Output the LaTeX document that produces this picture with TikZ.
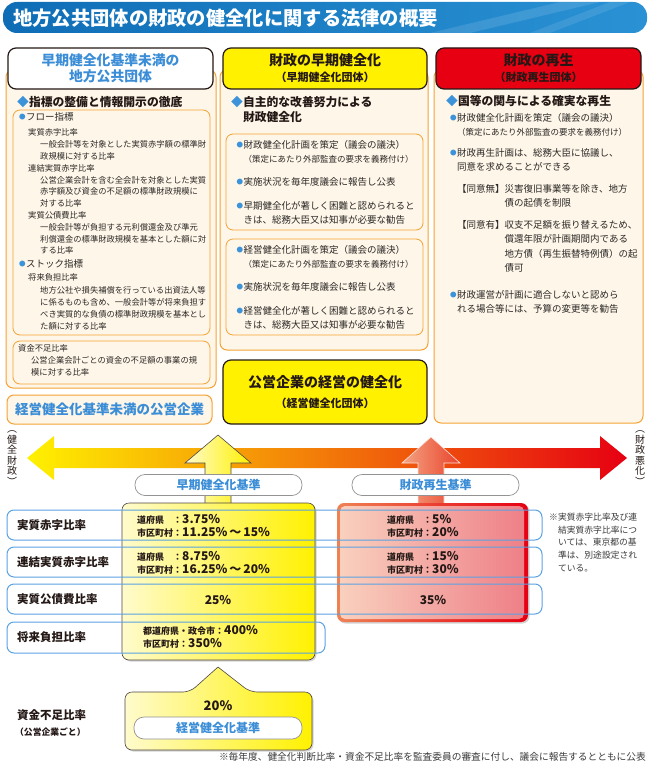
\documentclass[tikz,border=0pt]{standalone}
\usepackage{fontspec}
\setmainfont{Noto Sans CJK JP}
\usepackage{xcolor}
\usepackage{tikz}
\usetikzlibrary{shadows}
\definecolor{body}{HTML}{2B2827}
\definecolor{ink}{HTML}{231815}
\definecolor{dotblue}{HTML}{3D93DA}
\definecolor{txtblue}{HTML}{3A8DD6}
\definecolor{panelor}{HTML}{F4A233}
\definecolor{cream}{HTML}{FEF6E8}
\definecolor{ylw}{HTML}{FFF100}
\definecolor{ylwlt}{HTML}{FFFBCC}
\definecolor{orng}{HTML}{F39800}
\definecolor{rd}{HTML}{E60012}
\definecolor{rowblue}{HTML}{5AA2E2}
\definecolor{note}{HTML}{3A3A3A}
\definecolor{titleA}{HTML}{0F6DB6}
\definecolor{titleB}{HTML}{2A92D4}
\definecolor{redA}{HTML}{F4A383}
\definecolor{redB}{HTML}{E9442C}
\definecolor{frameA}{HTML}{EF8154}
\definecolor{fillA}{HTML}{F9D0BE}
\definecolor{fillB}{HTML}{EE8088}
\newcommand\fsz[2]{\fontsize{#1}{#2}\selectfont}
\newcommand\blt{\makebox[7pt][l]{\raisebox{0.7pt}{\textcolor{dotblue}{\fsz{6.5}{7}●}}}}
\newcommand\pfx[1]{\makebox[36pt][l]{#1}}
\newcommand\bignum[1]{{\fsz{12}{13}#1}}

\begin{document}
\begin{tikzpicture}[x=1pt, y=-1pt,
    every node/.style={inner sep=0pt, text=body},
    panel/.style={draw=panelor, fill=cream, line width=1pt, rounded corners=7pt},
    inbox/.style={draw=panelor, fill=cream, line width=0.8pt, rounded corners=7pt},
    hdr/.style={draw=ink, line width=1.2pt, rounded corners=8pt, minimum height=41pt,
      align=center, font=\bfseries\fsz{11}{16}, text=ink},
    txt/.style={anchor=north west, align=left},
    lead/.style={anchor=north west, align=left, font=\bfseries\fsz{11.8}{15}, text=ink},
    pill/.style={draw=gray!85, fill=white, line width=0.7pt, rounded corners=10pt,
      minimum width=167pt, minimum height=21pt, font=\bfseries\fsz{12}{13}, text=txtblue},
    row/.style={draw=rowblue, line width=1pt, rounded corners=7pt},
    rowlbl/.style={anchor=west, font=\bfseries\fsz{11.5}{13}, text=ink},
    val/.style={anchor=west, align=left, font=\bfseries\fsz{9}{13}, text=ink},
    colbox/.style={rounded corners=7pt, drop shadow={shadow xshift=1.5pt, shadow yshift=-1.5pt, opacity=0.35}},
    vlab/.style={align=center, font=\fsz{10}{10.5}, text=ink}
  ]
  \useasboundingbox (0,0) rectangle (650,762);

  \begin{scope}
    \clip[rounded corners=14pt] (3,2) rectangle (647,33);
    \shade[left color=titleA, right color=titleB] (3,2) rectangle (647,33);
    \fill[white, opacity=0.12] (430,33) -- (560,2) -- (600,2) -- (470,33) -- cycle;
    \fill[white, opacity=0.10] (530,33) -- (610,2) -- (630,2) -- (550,33) -- cycle;
  \end{scope}
  \node[anchor=west, font=\bfseries\fsz{19.3}{20}, text=white] (title) at (13,18) {地方公共団体の財政の健全化に関する法律の概要};

  \draw[panel] (6,70) rectangle (216,388);
  \draw[panel] (220,70) rectangle (428,350);
  \draw[panel] (434,70) rectangle (643,423);
  \draw[inbox] (13,110) rectangle (210,335);
  \draw[inbox] (13,341) rectangle (210,384);
  \draw[inbox] (226,134) rectangle (423,230);
  \draw[inbox] (226,239) rectangle (423,335);

  \node[hdr, fill=white, minimum width=205pt, text=txtblue, font=\bfseries\fsz{13.8}{16}] (lefthdr) at (110.5,68.5) {早期健全化基準未満の\\地方公共団体};
  \node[hdr, fill=ylw, minimum width=204pt] (midhdr) at (325,68.5) {{\fsz{14}{16}財政の早期健全化}\\{\fsz{11}{13}（早期健全化団体）}};
  \node[hdr, fill=rd, minimum width=205pt] (righthdr) at (538.5,68.5) {{\fsz{14}{16}財政の再生}\\{\fsz{11}{13}（財政再生団体）}};

  \node[lead] (leftlead) at (17,96) {\textcolor{dotblue}{◆}指標の整備と情報開示の徹底};
  \node[anchor=west, font=\fsz{9.5}{12}] (flow) at (19,117) {\blt フロー指標};
  \node[txt, font=\fsz{8.3}{11.8}] (flowtxt) at (28,128.8) {実質赤字比率\\%
\hspace*{12pt}一般会計等を対象とした実質赤字額の標準財\\%
\hspace*{12pt}政規模に対する比率\\%
連結実質赤字比率\\%
\hspace*{12pt}公営企業会計を含む全会計を対象とした実質\\%
\hspace*{12pt}赤字額及び資金の不足額の標準財政規模に\\%
\hspace*{12pt}対する比率\\%
実質公債費比率\\%
\hspace*{12pt}一般会計等が負担する元利償還金及び準元\\%
\hspace*{12pt}利償還金の標準財政規模を基本とした額に対\\%
\hspace*{12pt}する比率};
  \node[anchor=west, font=\fsz{9.5}{12}] (stock) at (19,264) {\blt ストック指標};
  \node[txt, font=\fsz{8.3}{12.2}] (stocktxt) at (28,273.8) {将来負担比率\\%
\hspace*{12pt}地方公社や損失補償を行っている出資法人等\\%
\hspace*{12pt}に係るものも含め、一般会計等が将来負担す\\%
\hspace*{12pt}べき実質的な負債の標準財政規模を基本とし\\%
\hspace*{12pt}た額に対する比率};
  \node[txt, font=\fsz{8.3}{12}] (fundtxt) at (18,344.8) {資金不足比率\\%
\hspace*{13pt}公営企業会計ごとの資金の不足額の事業の規\\%
\hspace*{13pt}模に対する比率};
  \node[draw=panelor, fill=cream, line width=1pt, rounded corners=7pt, minimum width=205pt,
    minimum height=29pt, font=\bfseries\fsz{13.5}{14}, text=txtblue] (subpar) at (109.5,409.5) {経営健全化基準未満の公営企業};

  \node[lead] (midlead) at (231,96) {\textcolor{dotblue}{◆}自主的な改善努力による\\\hspace*{11.8pt}財政健全化};
  \node[txt, font=\fsz{9.5}{14}] (m1) at (236.5,140.3) {\blt 財政健全化計画を策定（議会の議決）};
  \node[txt, font=\fsz{8.5}{14}] (m1s) at (243.5,154.8) {（策定にあたり外部監査の要求を義務付け）};
  \node[txt, font=\fsz{9.5}{14}] (m2) at (236.5,177.3) {\blt 実施状況を毎年度議会に報告し公表};
  \node[txt, font=\fsz{9.5}{14}] (m3) at (236.5,201.3) {\blt 早期健全化が著しく困難と認められると\\\hspace*{7pt}きは、総務大臣又は知事が必要な勧告};
  \node[txt, font=\fsz{9.5}{14}] (m4) at (236.5,245.3) {\blt 経営健全化計画を策定（議会の議決）};
  \node[txt, font=\fsz{8.5}{14}] (m4s) at (243.5,259.8) {（策定にあたり外部監査の要求を義務付け）};
  \node[txt, font=\fsz{9.5}{14}] (m5) at (236.5,282.3) {\blt 実施状況を毎年度議会に報告し公表};
  \node[txt, font=\fsz{9.5}{14}] (m6) at (236.5,306.3) {\blt 経営健全化が著しく困難と認められると\\\hspace*{7pt}きは、総務大臣又は知事が必要な勧告};
  \node[hdr, fill=ylw, minimum width=204pt, minimum height=64pt, font=\bfseries\fsz{11}{20}] (pubhdr) at (325,392) {{\fsz{14}{16}公営企業の経営の健全化}\\{\fsz{11}{13}（経営健全化団体）}};

  \node[lead] (rightlead) at (446,95.1) {\textcolor{dotblue}{◆}国等の関与による確実な再生};
  \node[txt, font=\fsz{9.5}{14}] (r1) at (450,113.3) {\blt 財政健全化計画を策定（議会の議決）};
  \node[txt, font=\fsz{8.5}{14}] (r1s) at (457,127.8) {（策定にあたり外部監査の要求を義務付け）};
  \node[txt, font=\fsz{9.5}{14.5}] (r2) at (450,148.3) {\blt 財政再生計画は、総務大臣に協議し、\\\hspace*{7pt}同意を求めることができる};
  \node[txt, font=\fsz{9.5}{14.3}] (r3) at (457,184.3) {【同意無】災害復旧事業等を除き、地方\\\phantom{【同意無】}債の起債を制限};
  \node[txt, font=\fsz{9.5}{14.3}] (r4) at (457,220.3) {【同意有】収支不足額を振り替えるため、\\\phantom{【同意有】}償還年限が計画期間内である\\\phantom{【同意有】}地方債（再生振替特例債）の起\\\phantom{【同意有】}債可};
  \node[txt, font=\fsz{9.5}{14}] (r5) at (450,290.3) {\blt 財政運営が計画に適合しないと認めら\\\hspace*{7pt}れる場合等には、予算の変更等を勧告};

  \shade[left color=ylw, middle color=orng, right color=rd] (27,458) -- (54,436) -- (54,448) -- (600,448) -- (600,436) -- (627,458) -- (600,480) -- (600,468) -- (54,468) -- (54,480) -- cycle;
  \node[vlab] (healthy) at (12,458) {︵\\健\\全\\財\\政\\︶};
  \node[vlab] (worse) at (640,458) {︵\\財\\政\\悪\\化\\︶};
  \draw[draw=ink!80, line width=0.6pt, left color=ylwlt, right color=ylw] (205,506) -- (205,463) -- (185,463) -- (218,435) -- (251,463) -- (231,463) -- (231,506) -- cycle;
  \draw[draw=white!70!redA, line width=0.6pt, left color=redA, right color=redB] (418,506) -- (418,463) -- (402,463) -- (431,437) -- (460,463) -- (444,463) -- (444,506) -- cycle;
  \node[pill] (ewpill) at (218.5,485) {早期健全化基準};
  \node[pill] (rrpill) at (435.5,485) {財政再生基準};

  \draw[colbox, draw=ink!80, line width=0.6pt, left color=ylwlt, right color=ylw] (122,503) rectangle (315,660);
  \shade[colbox, left color=frameA, right color=rd] (337,503) rectangle (528,622);
  \shade[rounded corners=5pt, left color=fillA, right color=fillB] (340,506) rectangle (524,619);

  \draw[row] (7,510) rectangle (542,540);
  \draw[row] (7,547) rectangle (542,577);
  \draw[row] (7,584) rectangle (542,614);
  \draw[row] (7,622) rectangle (325,653);
  \node[rowlbl] (deficit) at (17,525.5) {実質赤字比率};
  \node[rowlbl] (consol) at (17,562) {連結実質赤字比率};
  \node[rowlbl] (debtsvc) at (17,599) {実質公債費比率};
  \node[rowlbl] (future) at (17,637.5) {将来負担比率};

  \node[val] (y1) at (137,526) {\pfx{道府県}：\bignum{3.75\%}\\\pfx{市区町村}：\bignum{11.25\%\,～\,15\%}};
  \node[val] (y2) at (137,563) {\pfx{道府県}：\bignum{8.75\%}\\\pfx{市区町村}：\bignum{16.25\%\,～\,20\%}};
  \node[font=\bfseries\fsz{12}{13}, text=ink] (y3) at (218,600) {25\%};
  \node[val] (y4) at (143,637) {都道府県・政令市：\bignum{400\%}\\市区町村：\bignum{350\%}};
  \node[val] (r1v) at (387,526) {\pfx{道府県}：\bignum{5\%}\\\pfx{市区町村}：\bignum{20\%}};
  \node[val] (r2v) at (387,563) {\pfx{道府県}：\bignum{15\%}\\\pfx{市区町村}：\bignum{30\%}};
  \node[font=\bfseries\fsz{12}{13}, text=ink] (r3v) at (433,600) {35\%};
  \node[txt, font=\fsz{8.8}{12.8}, text=note] (tokyo) at (549,512.6) {※実質赤字比率及び連\\\hspace*{8.8pt}結実質赤字比率につ\\\hspace*{8.8pt}いては、東京都の基\\\hspace*{8.8pt}準は、別途設定され\\\hspace*{8.8pt}ている。};

  \draw[colbox, draw=ink!80, line width=0.6pt, left color=ylwlt, right color=ylw] (218,667) -- (250,692) [rounded corners=7pt] -- (312,692) -- (312,750) -- (125,750) -- (125,692) -- (190,692) [sharp corners] -- cycle;
  \node[font=\bfseries\fsz{13}{14}, text=ink] (pct20) at (218,706) {20\%};
  \node[pill, minimum width=168pt, minimum height=22pt] (mgpill) at (218,728) {経営健全化基準};
  \node[rowlbl] (fundlbl) at (17,715) {資金不足比率};
  \node[anchor=west, font=\bfseries\fsz{8.8}{10}, text=ink] (fundsub) at (15,732) {（公営企業ごと）};
  \node[anchor=east, font=\fsz{9.7}{10}, text=note] (foot) at (646,757) {※毎年度、健全化判断比率・資金不足比率を監査委員の審査に付し、議会に報告するとともに公表};
\end{tikzpicture}
\end{document}
